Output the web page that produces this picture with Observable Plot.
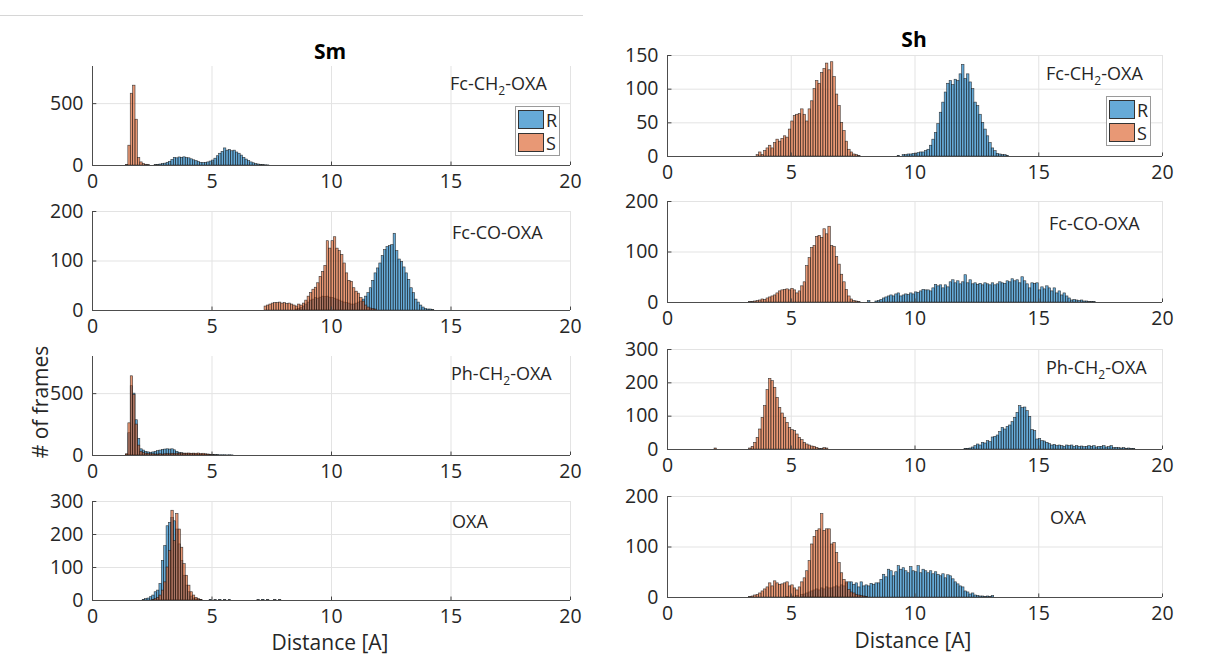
<!DOCTYPE html>
<html>
<head>
<meta charset="utf-8">
<script src="https://cdn.jsdelivr.net/npm/d3@7"></script>
<script src="https://cdn.jsdelivr.net/npm/@observablehq/plot@0.6"></script>
<style>
  body { margin: 0; background: #fff; font-family: "Open Sans", sans-serif; color: #262626; }
  #wrap { position: relative; width: 1213px; height: 657px; overflow: hidden; background: #fff; }
  .panel { position: absolute; }
  .lbl { position: absolute; font-size: 18px; line-height: 20px; white-space: nowrap; color: #262626; }
  .lbl sub { font-size: 12px; vertical-align: baseline; position: relative; top: 5px; }
  .ttl { position: absolute; font-weight: bold; font-size: 21px; line-height: 24px; transform: translate(-50%, -50%); color: #000; }
  .axl { position: absolute; font-size: 21px; line-height: 20px; white-space: nowrap; transform: translate(-50%, -50%); color: #262626; }
  .legend { position: absolute; border: 1px solid #9a9a9a; background: #fff; box-sizing: border-box; }
  .sw { position: absolute; box-sizing: border-box; border: 1px solid #333; }
  .lt { position: absolute; font-size: 18px; line-height: 18px; color: #262626; }
</style>
</head>
<body>
<div id="wrap"></div>
<script>
// ---------------- shared ----------------
const xTicks = [0, 5, 10, 15, 20];
const binWidth = 0.1;
const seriesNames = ["R", "S"];
const colorR = "#0072BD";
const colorS = "#D95319";

// ---------------- Sm (left column) ----------------
// Fc-CH2-OXA
const smFcCH2_R_from = 2.6;
const smFcCH2_R = [3,5,8,12,15,22,30,45,62,58, 65,62,66,60,58,50,42,35,28,22, 20,22,25,32,40,55,75,95,110,138, 120,125,115,120,105,95,80,62,48,35, 25,18,12,8,5,3,2,1];
const smFcCH2_S_from = 1.4;
const smFcCH2_S = [5,160,580,645,370,60,25,12,6,3];

// Fc-CO-OXA
const smFcCO_R_from = 8.5;
const smFcCO_R = [2,3,5,8,12,16,20,22,25,24, 26,28,27,28,26,25,24,22,20,18, 16,15,14,12,12,14,16,18,22,28, 35,45,60,75,85,95,110,122,128,130, 132,155,120,103,98,87,75,62,45,35, 22,16,10,6,3,2,2,1];
const smFcCO_S_from = 7.2;
const smFcCO_S = [8,10,12,14,15,15,16,14,15,13, 14,12,10,8,12,10,14,20,28,35, 42,46,55,68,78,90,140,125,140,148, 125,120,112,95,75,60,58,45,38,34, 25,18,10,6,4,3,2];

// Ph-CH2-OXA
const smPhCH2_R_from = 1.4;
const smPhCH2_R = [5,180,560,500,285,135,50,40,30,25, 22,25,30,35,40,45,48,50,48,50, 42,30,22,18,15,12,12,10,10,8, 8,6,6,5,6,5,4,3,3,2, 2,2,1,2,1];
const smPhCH2_S_from = 1.4;
const smPhCH2_S = [10,260,640,490,250,80,30,20,15,12, 10,10,8,8,10,8,10,12,10,14, 12,15,14,16,14,15,16,14,15,14, 16,12,14,10,8,6,4];

// OXA
const smOXA_R_from = 2.1;
const smOXA_R = [2,4,6,10,15,25,30,50,120,165, 225,235,250,240,215,170,120,75,45,25, 12,6,3,2,1,0,0,0,2,0, 1,0,2,0,1,0,1,0,0,0, 0,0,0,0,0,0,0,0,1,0, 2,0,1,0,0,1,0,1];
const smOXA_S_from = 2.5;
const smOXA_S = [2,4,8,15,30,55,100,150,272,180, 262,215,160,110,75,45,25,15,8,4,2];

// ---------------- Sh (right column) ----------------
// Fc-CH2-OXA
const shFcCH2_R_from = 9.3;
const shFcCH2_R = [1,0,2,2,3,3,4, 4,5,6,6,8,10,16,25,35,48, 65,80,95,108,112,106,114,112,122,136, 115,122,110,100,80,75,62,50,40,30, 20,12,8,4,3,2,2,1];
const shFcCH2_S_from = 3.6;
const shFcCH2_S = [2,6,2,8,12,16,12,20,25,22, 26,30,28,40,52,60,62,63,70,62, 52,70,82,100,112,108,124,130,138,128, 140,118,92,75,50,38,22,10,6,3, 2,1];

// Fc-CO-OXA
const shFcCO_R_from = 8.1;
const shFcCO_R = [3,0,0,2,3,5,8,10,12,14, 12,16,18,12,14,16,15,18,16,20, 19,22,25,24,24,22,28,35,32,34, 28,34,30,40,44,38,42,36,40,54, 38,44,36,38,35,37,34,38,36,34, 38,34,36,40,38,37,42,40,46,42, 44,38,50,42,36,28,38,37,38,24, 30,26,32,28,22,28,18,22,14,18, 12,8,4,5,4,3,4,2,2,1, 1,1];
const shFcCO_S_from = 3.3;
const shFcCO_S = [1,1,2,3,4,6,5,8,10,12, 14,18,22,24,25,26,24,27,24,18, 22,32,40,72,88,108,112,130,132,128, 145,135,150,112,110,90,75,55,40,25, 12,6,3,2,1];

// Ph-CH2-OXA
const shPhCH2_R_from = 12.0;
const shPhCH2_R = [2,2,3,6,10,15,12,20,18,25, 22,36,38,42,52,65,60,68,72,82, 95,110,130,124,126,115,98,58,55,30, 32,25,24,20,16,12,14,10,12,10, 8,12,10,12,8,10,8,9,7,8, 10,8,10,6,8,8,10,6,7,10, 4,5,4,3,4,2,3,2,2];
const shPhCH2_S_from = 1.9;
const shPhCH2_S = [3,0,0,0,0,0,0,0,0,0, 0,0,0,0,3,8,20,35,60,95, 130,178,212,205,185,155,125,108,95,80, 65,58,55,45,35,28,20,15,12,9, 8,5,2,1,4,3];

// OXA
const shOXA_R_from = 4.8;
const shOXA_R = [1,0,2,0,3,0,5,6,8,10, 12,14,16,14,18,16,20,18,18,20, 22,20,24,22,28,30,30,25,28,20, 30,22,24,22,27,25,28,28,35,45, 40,55,52,42,50,62,55,58,52,48, 60,52,50,62,48,55,52,48,52,46, 50,45,42,46,38,44,42,36,30,26, 22,20,12,10,6,8,4,3,2,2, 1,2,1,3];
const shOXA_S_from = 3.3;
const shOXA_S = [1,2,4,5,8,12,16,20,28,22, 32,28,25,26,28,30,22,24,18,14, 20,30,38,52,72,105,120,132,135,165, 132,135,135,105,108,88,68,48,35,30, 15,10,8,5,4,3,2,1];

// ---------------- layout ----------------
const colLeft = {frameX: 92, frameW: 478};
const colRight = {frameX: 667, frameW: 495};

const panels = [
  {col: colLeft,  top: 66,  h: 99,  ymax: 800, yTicks: [0, 500],           R: [smFcCH2_R_from, smFcCH2_R], S: [smFcCH2_S_from, smFcCH2_S], label: "Fc-CH<sub>2</sub>-OXA", lx: 450,  ly: 83},
  {col: colLeft,  top: 211, h: 99,  ymax: 200, yTicks: [0, 100, 200],      R: [smFcCO_R_from, smFcCO_R],   S: [smFcCO_S_from, smFcCO_S],   label: "Fc-CO-OXA",            lx: 452,  ly: 232},
  {col: colLeft,  top: 356, h: 99,  ymax: 800, yTicks: [0, 500],           R: [smPhCH2_R_from, smPhCH2_R], S: [smPhCH2_S_from, smPhCH2_S], label: "Ph-CH<sub>2</sub>-OXA", lx: 451,  ly: 373},
  {col: colLeft,  top: 501, h: 99,  ymax: 300, yTicks: [0, 100, 200, 300], R: [smOXA_R_from, smOXA_R],     S: [smOXA_S_from, smOXA_S],     label: "OXA",                  lx: 452,  ly: 521},
  {col: colRight, top: 55,  h: 101, ymax: 150, yTicks: [0, 50, 100, 150],  R: [shFcCH2_R_from, shFcCH2_R], S: [shFcCH2_S_from, shFcCH2_S], label: "Fc-CH<sub>2</sub>-OXA", lx: 1046, ly: 73},
  {col: colRight, top: 201, h: 101, ymax: 200, yTicks: [0, 100, 200],      R: [shFcCO_R_from, shFcCO_R],   S: [shFcCO_S_from, shFcCO_S],   label: "Fc-CO-OXA",            lx: 1049, ly: 223},
  {col: colRight, top: 349, h: 100, ymax: 300, yTicks: [0, 100, 200, 300], R: [shPhCH2_R_from, shPhCH2_R], S: [shPhCH2_S_from, shPhCH2_S], label: "Ph-CH<sub>2</sub>-OXA", lx: 1046, ly: 367},
  {col: colRight, top: 496, h: 101, ymax: 200, yTicks: [0, 100, 200],      R: [shOXA_R_from, shOXA_R],     S: [shOXA_S_from, shOXA_S],     label: "OXA",                  lx: 1050, ly: 517}
];

function toBins([from, counts]) {
  return counts
    .map((n, i) => ({x1: +(from + i * binWidth).toFixed(3), x2: +(from + (i + 1) * binWidth).toFixed(3), n}))
    .filter(d => d.n > 0);
}

const wrap = document.getElementById("wrap");
const mL = 60, mR = 20, mT = 12, mB = 34;

for (const p of panels) {
  const barStyle = {x1: "x1", x2: "x2", y: "n", fillOpacity: 0.6, stroke: "#1a1a1a", strokeWidth: 0.6, strokeOpacity: 0.85};
  const chart = Plot.plot({
    width: p.col.frameW + mL + mR,
    height: p.h + mT + mB,
    marginLeft: mL, marginRight: mR, marginTop: mT, marginBottom: mB,
    style: {fontFamily: "Open Sans, sans-serif", fontSize: "19.5px", color: "#262626", background: "transparent", overflow: "visible"},
    x: {domain: [0, 20], ticks: xTicks, tickSize: 0, tickPadding: 9, tickFormat: d => String(d), label: null},
    y: {domain: [0, p.ymax], ticks: p.yTicks, tickSize: 0, tickPadding: 9, tickFormat: d => String(d), label: null},
    marks: [
      Plot.ruleX(xTicks, {stroke: "#e3e3e3", strokeWidth: 1}),
      Plot.ruleY(p.yTicks, {stroke: "#e3e3e3", strokeWidth: 1}),
      Plot.rectY(toBins(p.R), {...barStyle, fill: colorR}),
      Plot.rectY(toBins(p.S), {...barStyle, fill: colorS}),
      Plot.ruleX(xTicks, {y1: 0, y2: p.ymax * 0.035, stroke: "#444", strokeWidth: 1}),
      Plot.ruleY(p.yTicks, {x1: 0, x2: 0.18, stroke: "#444", strokeWidth: 1}),
      Plot.ruleX([0], {stroke: "#4d4d4d", strokeWidth: 1}),
      Plot.ruleY([0], {stroke: "#4d4d4d", strokeWidth: 1.2})
    ]
  });
  chart.classList.add("panel");
  chart.style.left = (p.col.frameX - mL) + "px";
  chart.style.top = (p.top - mT) + "px";
  wrap.appendChild(chart);

  const lab = document.createElement("div");
  lab.className = "lbl";
  lab.innerHTML = p.label;
  lab.style.left = p.lx + "px";
  lab.style.top = (p.ly - 10) + "px";
  wrap.appendChild(lab);
}

// legends
function addLegend(x, y) {
  const box = document.createElement("div");
  box.className = "legend";
  Object.assign(box.style, {left: x + "px", top: y + "px", width: "45px", height: "50px"});
  const cols = [colorR, colorS];
  seriesNames.forEach((name, i) => {
    const sw = document.createElement("div");
    sw.className = "sw";
    const c = d3.color(cols[i]); c.opacity = 0.6;
    Object.assign(sw.style, {left: "2px", top: (3 + i * 23) + "px", width: "26px", height: "19px", background: c.toString()});
    box.appendChild(sw);
    const t = document.createElement("div");
    t.className = "lt";
    t.textContent = name;
    Object.assign(t.style, {left: "30px", top: (4 + i * 23) + "px"});
    box.appendChild(t);
  });
  wrap.appendChild(box);
}
addLegend(515, 106);
addLegend(1106, 96);

// titles and axis labels
function addText(cls, text, x, y, rotate) {
  const d = document.createElement("div");
  d.className = cls;
  d.textContent = text;
  d.style.left = x + "px";
  d.style.top = y + "px";
  if (rotate) d.style.transform = "translate(-50%, -50%) rotate(-90deg)";
  wrap.appendChild(d);
}
addText("ttl", "Sm", 330, 51);
addText("ttl", "Sh", 914, 39);
addText("axl", "Distance [A]", 330, 642);
addText("axl", "Distance [A]", 913, 640);
addText("axl", "# of frames", 40, 402, true);

// thin separator line at the top-left
const sep = document.createElement("div");
Object.assign(sep.style, {position: "absolute", left: "0px", top: "15px", width: "583px", height: "1px", background: "#d6d6d6"});
wrap.appendChild(sep);
</script>
</body>
</html>
